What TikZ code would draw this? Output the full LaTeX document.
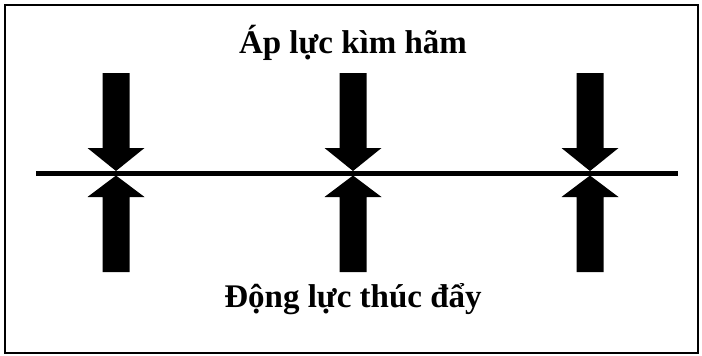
\documentclass[tikz,border=0pt]{standalone}
\usepackage{fontspec}
\setmainfont{Liberation Serif}

\tikzset{
  label text/.style={font=\bfseries\fontsize{33}{38}\selectfont, inner sep=0pt, anchor=base},
  force/.style={fill=black},
}

\begin{document}
\begin{tikzpicture}[x=1pt,y=-1pt]
    \useasboundingbox (0,0) rectangle (702,356);

    % Frame
    \draw[line width=2pt] (4.5,4.5) rectangle (697.5,352.5);

    % Labels
    \node[label text] (kimham) at (353,53) {Áp lực kìm hãm};
    \node[label text] (dongluc) at (353,307) {Động lực thúc đẩy};

    % Balance line
    \coordinate (lineL) at (36,173.5);
    \coordinate (lineR) at (678,173.5);
    \draw[line width=4.5pt] (lineL) -- (lineR);

    % Restraining forces (down) and driving forces (up)
    \foreach \x in {116,353,590}{
        \fill[force] (\x-13.5,73) -- (\x+13.5,73) -- (\x+13.5,148) -- (\x+28.5,148)
            -- (\x,171) -- (\x-28.5,148) -- (\x-13.5,148) -- cycle;
        \fill[force] (\x-13.5,272) -- (\x+13.5,272) -- (\x+13.5,197) -- (\x+28.5,197)
            -- (\x,175.5) -- (\x-28.5,197) -- (\x-13.5,197) -- cycle;
    }
\end{tikzpicture}
\end{document}
